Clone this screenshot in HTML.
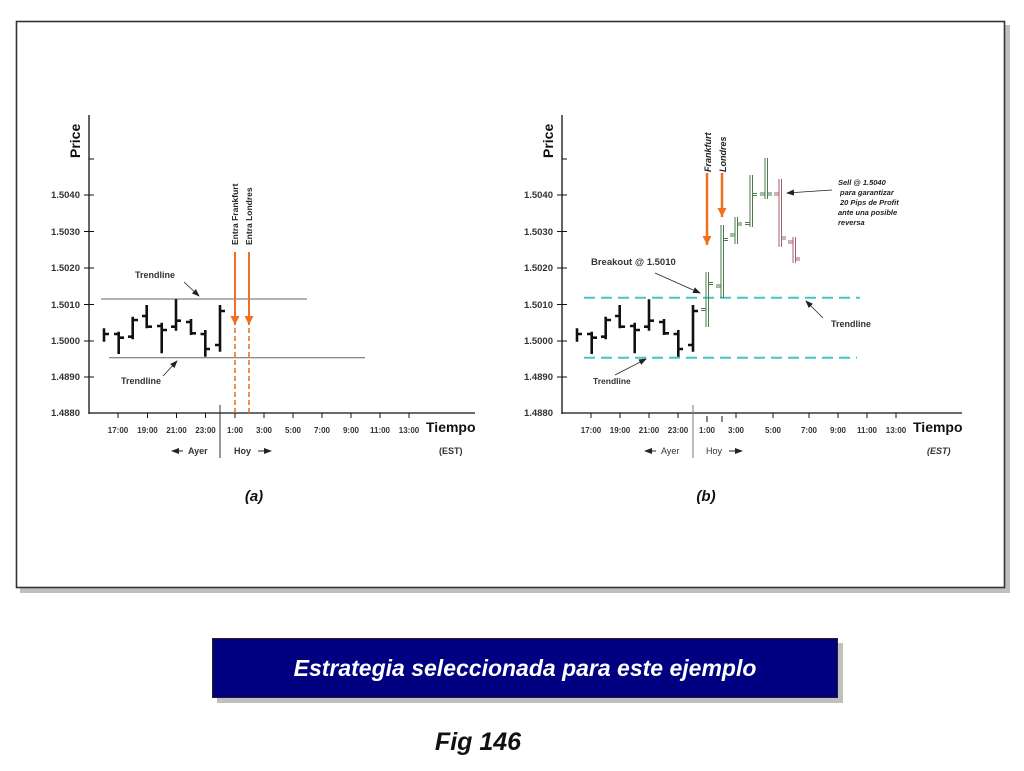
<!DOCTYPE html>
<html><head><meta charset="utf-8"><style>
html,body{margin:0;padding:0;background:#fff;}
svg{display:block;font-family:"Liberation Sans",Arial,sans-serif;}
</style></head><body>
<svg width="1024" height="771" viewBox="0 0 1024 771" xmlns="http://www.w3.org/2000/svg">
<defs>
<marker id="ah" markerWidth="8" markerHeight="8" refX="7" refY="4" orient="auto" markerUnits="userSpaceOnUse"><path d="M0,1 L8,4 L0,7 z" fill="#222"/></marker>
<marker id="oh" markerWidth="10" markerHeight="9" refX="9" refY="4.5" orient="auto" markerUnits="userSpaceOnUse"><path d="M0,0 L9,4.5 L0,9 z" fill="#f07020"/></marker>
</defs>
<rect x="20" y="25" width="990" height="568" fill="#c0c0c0"/>
<rect x="16.5" y="21.5" width="988" height="566" fill="#fff" stroke="#333" stroke-width="1.6"/>

<!-- ========== CHART A ========== -->
<g id="A">
<line x1="89" y1="115" x2="89" y2="414" stroke="#111" stroke-width="1.3"/>
<line x1="89" y1="413" x2="475" y2="413" stroke="#111" stroke-width="1.3"/>
<g stroke="#111" stroke-width="1"><line x1="89" y1="159" x2="94" y2="159"/><line x1="84" y1="195" x2="94" y2="195"/><line x1="84" y1="231.5" x2="94" y2="231.5"/><line x1="84" y1="268" x2="94" y2="268"/><line x1="84" y1="304.5" x2="94" y2="304.5"/><line x1="84" y1="341" x2="94" y2="341"/><line x1="84" y1="377" x2="94" y2="377"/></g>
<g font-size="9.5" font-weight="bold" fill="#333" text-anchor="end"><text x="80" y="198">1.5040</text><text x="80" y="235">1.5030</text><text x="80" y="271">1.5020</text><text x="80" y="308">1.5010</text><text x="80" y="344">1.5000</text><text x="80" y="380">1.4890</text><text x="80" y="416">1.4880</text></g>
<text transform="translate(80,158) rotate(-90)" font-size="14" font-weight="bold" fill="#111">Price</text>
<g stroke="#111" stroke-width="1"><line x1="118" y1="413" x2="118" y2="418"/><line x1="147.5" y1="413" x2="147.5" y2="418"/><line x1="176.5" y1="413" x2="176.5" y2="418"/><line x1="205.5" y1="413" x2="205.5" y2="418"/><line x1="235" y1="413" x2="235" y2="418"/><line x1="264" y1="413" x2="264" y2="418"/><line x1="293" y1="413" x2="293" y2="418"/><line x1="322" y1="413" x2="322" y2="418"/><line x1="351" y1="413" x2="351" y2="418"/><line x1="380" y1="413" x2="380" y2="418"/><line x1="409" y1="413" x2="409" y2="418"/></g>
<g font-size="8" font-weight="bold" fill="#333" text-anchor="middle"><text x="118" y="433">17:00</text><text x="147.5" y="433">19:00</text><text x="176.5" y="433">21:00</text><text x="205.5" y="433">23:00</text><text x="235" y="433">1:00</text><text x="264" y="433">3:00</text><text x="293" y="433">5:00</text><text x="322" y="433">7:00</text><text x="351" y="433">9:00</text><text x="380" y="433">11:00</text><text x="409" y="433">13:00</text></g>
<text x="426" y="432" font-size="14" font-weight="bold" fill="#111">Tiempo</text>
<text x="439" y="454" font-size="9" font-weight="bold" fill="#333">(EST)</text>
<line x1="220" y1="405" x2="220" y2="458" stroke="#333" stroke-width="1"/>
<text x="188" y="454" font-size="9" font-weight="bold" fill="#333">Ayer</text>
<path d="M183,451 L172,451" stroke="#222" stroke-width="1" marker-end="url(#ah)"/>
<text x="234" y="454" font-size="9" font-weight="bold" fill="#333">Hoy</text>
<path d="M258,451 L271,451" stroke="#222" stroke-width="1" marker-end="url(#ah)"/>
<line x1="101" y1="299" x2="307" y2="299" stroke="#666" stroke-width="1"/>
<line x1="109" y1="357.7" x2="365" y2="357.7" stroke="#666" stroke-width="1"/>
<text x="135" y="278" font-size="9" font-weight="bold" fill="#333">Trendline</text>
<path d="M184,282 L199,296" stroke="#222" stroke-width="0.8" marker-end="url(#ah)"/>
<text x="121" y="384" font-size="9" font-weight="bold" fill="#333">Trendline</text>
<path d="M163,376 L177,361" stroke="#222" stroke-width="0.8" marker-end="url(#ah)"/>
<g stroke="#111" stroke-width="2.6" fill="none">
<path d="M104,328.3V341.7M104,334H109"/>
<path d="M118.7,331.7V354M114,334H118.7M118.7,337.7H124"/>
<path d="M132.7,316.7V339.3M128,336.7H132.7M132.7,320H138"/>
<path d="M146.7,305V328.3M142,316H146.7M146.7,326.7H152"/>
<path d="M161.7,322.7V353.3M157,326H161.7M161.7,330H167"/>
<path d="M176,299.3V330.7M171,326.7H176M176,320.7H181"/>
<path d="M191,319V335M186,322H191M191,333.3H196"/>
<path d="M205.3,330V356.7M200.5,334H205.3M205.3,349H210"/>
<path d="M220,305V351.7M215,345H220M220,311H225"/>
</g>
<g stroke="#f07020" stroke-width="2"><line x1="235" y1="252" x2="235" y2="325" marker-end="url(#oh)"/><line x1="249" y1="252" x2="249" y2="325" marker-end="url(#oh)"/></g>
<g stroke="#e07020" stroke-width="1.5" stroke-dasharray="5,3"><line x1="235" y1="328" x2="235" y2="413"/><line x1="249" y1="328" x2="249" y2="413"/></g>
<text transform="translate(238,245) rotate(-90)" font-size="8.5" font-weight="bold" fill="#222">Entra Frankfurt</text>
<text transform="translate(252,245) rotate(-90)" font-size="8.5" font-weight="bold" fill="#222">Entra Londres</text>
<text x="254" y="501" font-size="15" font-weight="bold" font-style="italic" fill="#111" text-anchor="middle">(a)</text>
</g>

<!-- ========== CHART B ========== -->
<g id="B">
<line x1="562" y1="115" x2="562" y2="414" stroke="#111" stroke-width="1.3"/>
<line x1="562" y1="413" x2="962" y2="413" stroke="#111" stroke-width="1.3"/>
<g stroke="#111" stroke-width="1"><line x1="562" y1="159" x2="567" y2="159"/><line x1="557" y1="195" x2="567" y2="195"/><line x1="557" y1="231.5" x2="567" y2="231.5"/><line x1="557" y1="268" x2="567" y2="268"/><line x1="557" y1="304.5" x2="567" y2="304.5"/><line x1="557" y1="341" x2="567" y2="341"/><line x1="557" y1="377" x2="567" y2="377"/></g>
<g font-size="9.5" font-weight="bold" fill="#333" text-anchor="end"><text x="553" y="198">1.5040</text><text x="553" y="235">1.5030</text><text x="553" y="271">1.5020</text><text x="553" y="308">1.5010</text><text x="553" y="344">1.5000</text><text x="553" y="380">1.4890</text><text x="553" y="416">1.4880</text></g>
<text transform="translate(553,158) rotate(-90)" font-size="14" font-weight="bold" fill="#111">Price</text>
<g stroke="#111" stroke-width="1"><line x1="591" y1="413" x2="591" y2="418"/><line x1="620" y1="413" x2="620" y2="418"/><line x1="649" y1="413" x2="649" y2="418"/><line x1="678" y1="413" x2="678" y2="418"/><line x1="707" y1="416" x2="707" y2="422"/><line x1="722" y1="416" x2="722" y2="422"/><line x1="736" y1="413" x2="736" y2="418"/><line x1="773" y1="413" x2="773" y2="418"/><line x1="809" y1="413" x2="809" y2="418"/><line x1="838" y1="413" x2="838" y2="418"/><line x1="867" y1="413" x2="867" y2="418"/><line x1="896" y1="413" x2="896" y2="418"/></g>
<g font-size="8" font-weight="bold" fill="#333" text-anchor="middle"><text x="591" y="433">17:00</text><text x="620" y="433">19:00</text><text x="649" y="433">21:00</text><text x="678" y="433">23:00</text><text x="707" y="433">1:00</text><text x="736" y="433">3:00</text><text x="773" y="433">5:00</text><text x="809" y="433">7:00</text><text x="838" y="433">9:00</text><text x="867" y="433">11:00</text><text x="896" y="433">13:00</text></g>
<text x="913" y="432" font-size="14" font-weight="bold" fill="#111">Tiempo</text>
<text x="927" y="454" font-size="9" font-weight="bold" font-style="italic" fill="#333">(EST)</text>
<line x1="693" y1="405" x2="693" y2="458" stroke="#777" stroke-width="1"/>
<text x="661" y="454" font-size="9" fill="#333">Ayer</text>
<path d="M656,451 L645,451" stroke="#222" stroke-width="1" marker-end="url(#ah)"/>
<text x="706" y="454" font-size="9" fill="#333">Hoy</text>
<path d="M729,451 L742,451" stroke="#222" stroke-width="1" marker-end="url(#ah)"/>
<line x1="584" y1="297.7" x2="860" y2="297.7" stroke="#40c8c8" stroke-width="2" stroke-dasharray="11,6"/>
<line x1="584" y1="357.7" x2="857" y2="357.7" stroke="#40c8c8" stroke-width="2" stroke-dasharray="11,6"/>
<text x="591" y="265" font-size="9.5" font-weight="bold" fill="#333">Breakout @ 1.5010</text>
<path d="M655,273 L700,293" stroke="#222" stroke-width="0.8" marker-end="url(#ah)"/>
<text x="831" y="327" font-size="9" font-weight="bold" fill="#333">Trendline</text>
<path d="M823,318 L806,301" stroke="#222" stroke-width="0.8" marker-end="url(#ah)"/>
<text x="593" y="384" font-size="8.5" font-weight="bold" fill="#333">Trendline</text>
<path d="M615,375 L646,359" stroke="#222" stroke-width="0.8" marker-end="url(#ah)"/>
<g stroke="#111" stroke-width="2.6" fill="none">
<path d="M577,328.3V341.7M577,334H582"/>
<path d="M591.7,331.7V354M587,334H591.7M591.7,337.7H597"/>
<path d="M605.7,316.7V339.3M601,336.7H605.7M605.7,320H611"/>
<path d="M619.7,305V328.3M615,316H619.7M619.7,326.7H625"/>
<path d="M634.7,322.7V353.3M630,326H634.7M634.7,330H640"/>
<path d="M649,299.3V330.7M644,326.7H649M649,320.7H654"/>
<path d="M664,319V335M659,322H664M664,333.3H669"/>
<path d="M678.3,330V356.7M673.5,334H678.3M678.3,349H683"/>
<path d="M693,305V351.7M688,345H693M693,311H698"/>
</g>
<g stroke="#4a7a4a" stroke-width="1" fill="none">
<path d="M706,272V327M708.5,272V327M701,308.5H706M701,310.5H706M708.5,282.5H713M708.5,284.5H713"/>
<path d="M721,225V298M723.5,225V298M716,285H721M716,287H721M723.5,238.5H728M723.5,240.5H728"/>
<path d="M735,217V244M737.5,217V244M730,234H735M730,236H735M737.5,223H742M737.5,225H742"/>
<path d="M750,175V227M752.5,175V227M745,222.5H750M745,224.5H750M752.5,193.5H757M752.5,195.5H757"/>
<path d="M765,158V199M767.5,158V199M760,193H765M760,195H765M767.5,193H772M767.5,195H772"/>
</g>
<g stroke="#a06070" stroke-width="1" fill="none">
<path d="M779,179V247M781.5,179V247M774,193H779M774,195H779M781.5,237H786M781.5,239H786"/>
<path d="M793,237V263M795.5,237V263M788,241H793M788,243H793M795.5,258H800M795.5,260H800"/>
</g>
<g stroke="#f07020" stroke-width="2.5"><line x1="707" y1="173" x2="707" y2="245" marker-end="url(#oh)"/><line x1="722" y1="173" x2="722" y2="217" marker-end="url(#oh)"/></g>
<text transform="translate(711,172) rotate(-90)" font-size="9" font-weight="bold" font-style="italic" fill="#222">Frankfurt</text>
<text transform="translate(726,172) rotate(-90)" font-size="9" font-weight="bold" font-style="italic" fill="#222">Londres</text>
<g font-size="7.5" font-weight="bold" font-style="italic" fill="#222"><text x="838" y="185">Sell @ 1.5040</text><text x="840" y="195">para garantizar</text><text x="840" y="205">20 Pips de Profit</text><text x="838" y="215">ante una posible</text><text x="838" y="225">reversa</text></g>
<path d="M832,190 L787,193" stroke="#222" stroke-width="0.8" marker-end="url(#ah)"/>
<text x="706" y="501" font-size="15" font-weight="bold" font-style="italic" fill="#111" text-anchor="middle">(b)</text>
</g>

<rect x="217" y="643" width="626" height="60" fill="#c0c0c0"/>
<rect x="212.5" y="638.5" width="625" height="59" fill="#000080" stroke="#222" stroke-width="1"/>
<text x="525" y="676" font-size="23" font-weight="bold" font-style="italic" fill="#fff" text-anchor="middle">Estrategia seleccionada para este ejemplo</text>
<text x="478" y="750" font-size="25" font-weight="bold" font-style="italic" fill="#111" text-anchor="middle">Fig 146</text>
</svg>
</body></html>
